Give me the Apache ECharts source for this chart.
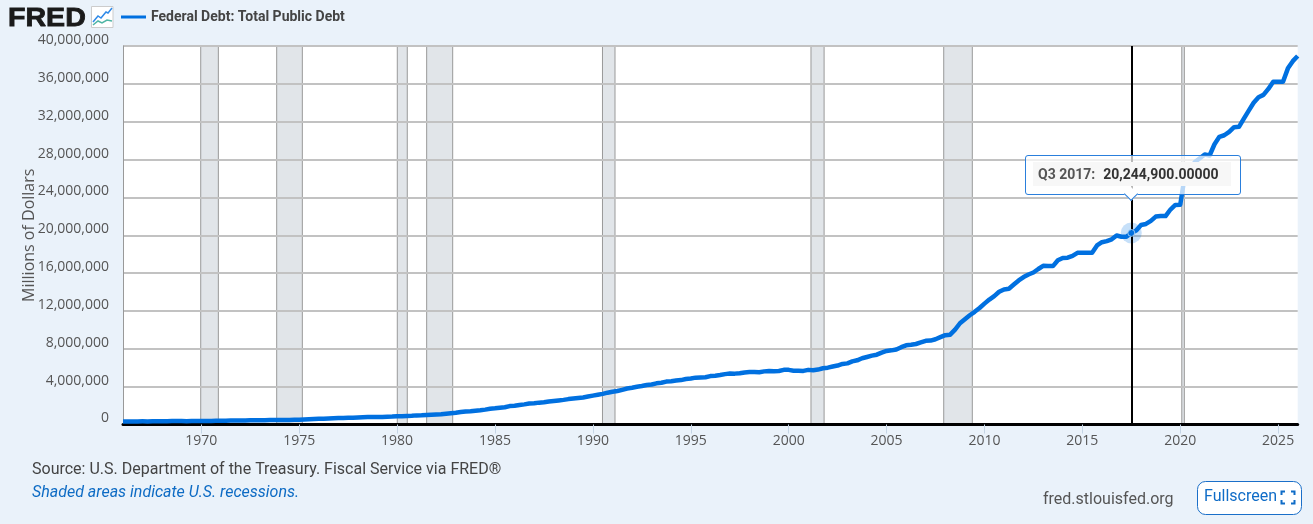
<!DOCTYPE html>
<html><head><meta charset="utf-8">
<style>html,body{margin:0;padding:0;background:#eaf2fa}#c{width:1313px;height:524px}</style>
<script src="https://cdn.jsdelivr.net/npm/echarts@6/dist/echarts.min.js"></script>
</head><body><div id="c"></div>
<script>
const seriesName = 'Federal Debt: Total Public Debt';
const startYear = 1966;
const debt = [
320999,316097,324748,329319, 330947,322893,337206,344663, 351729,347578,358019,358029, 359446,353720,367144,368226,
372007,370919,383000,389158, 391652,398130,414000,424131, 427260,427260,436500,449298, 458141,458142,469100,469898,
474235,474235,486247,492665, 509659,533189,553600,576649, 599200,620433,635000,653544, 680000,685000,709000,718943,
749000,771000,780000,789207, 797000,804000,827000,845116, 877000,884000,908000,930210, 964000,971000,998000,1028729,
1061000,1084000,1142000,1197073, 1245000,1319000,1377000,1410702, 1464000,1512000,1572000,1663000, 1710000,1774000,1823000,1945942,
1986000,2059000,2125000,2214834, 2246000,2310000,2350000,2431715, 2487000,2547000,2602000,2684000, 2740000,2799000,2857000,2953000,
3052000,3143000,3233000,3364000, 3465000,3538000,3665000,3801000, 3881000,3984000,4065000,4177000, 4230000,4352000,4411000,4536000,
4575000,4646000,4692000,4801000, 4864000,4951000,4974000,4988000, 5117000,5161000,5224000,5323000, 5380000,5376000,5413000,5502000,
5542000,5548000,5526000,5614000, 5651000,5638000,5656000,5776000, 5773000,5685000,5674000,5662000, 5773000,5726000,5807000,5943000,
6006000,6126000,6228000,6405000, 6460000,6670000,6783000,6998000, 7131000,7274000,7379000,7596000, 7776000,7836000,7933000,8170000,
8371000,8420000,8507000,8680000, 8849000,8867000,9008000,9229000, 9437000,9492000,10025000,10700000, 11127000,11545000,11910000,12312000,
12773000,13202000,13562000,14025000, 14270000,14343000,14790000,15223000, 15582000,15856000,16066000,16433000, 16772000,16738000,16738000,17352000,
17602000,17633000,17824000,18141000, 18152000,18152000,18151000,18922000, 19264000,19381000,19573000,19977000, 19846000,19845000,20244900,20492000,
21090000,21195000,21516000,21974000, 22028000,22023000,22719000,23201000, 23224000,26477000,26945000,27748000, 28133000,28529000,28429000,29617000,
30401000,30569000,30929000,31420000, 31458000,32332000,33167000,34001000, 34587000,34832000,35465000,36219000, 36215000,36211000,37637000,38400000,
38950000
];
const recessions = [[1969.97,1970.87],[1973.85,1975.16],[1980.01,1980.52],[1981.51,1982.84],[1990.49,1991.13],[2001.14,2001.81],[2007.92,2009.38],[2020.08,2020.21]];
const xTicks = [1970,1975,1980,1985,1990,1995,2000,2005,2010,2015,2020,2025];
const tipIndex = (2017 - startYear) * 4 + 2;

const points = debt.map((v,i)=>[startYear + i/4, v]);
const label = i => 'Q'+(i%4+1)+' '+(startYear+Math.floor(i/4));
const TXT = '#444';
const BLUE = '#0070e0';
const chart = echarts.init(document.getElementById('c'),null,{renderer:'canvas'});
chart.setOption({
  animation:false,
  backgroundColor:'#eaf2fa',
  grid:{left:123,top:46,width:1174.7,height:378.5,backgroundColor:'#fff',show:true,borderWidth:0},
  legend:{left:116,top:5,icon:'rect',itemWidth:25,itemHeight:3,itemGap:5,data:[seriesName],
    itemStyle:{borderWidth:0,color:BLUE},
    textStyle:{fontFamily:'Roboto',fontWeight:'bold',fontSize:14,color:'#444'}},
  xAxis:{type:'value',min:startYear,max:2026,z:4,
    splitLine:{show:false},
    axisLine:{show:true,onZero:false,lineStyle:{color:'#000',width:3}},
    axisTick:{show:true,customValues:xTicks,length:9,lineStyle:{color:'#c5d5e5',width:1}},
    axisLabel:{customValues:xTicks,formatter:v=>String(v),fontFamily:'Open Sans',fontSize:14,color:'#555',margin:10}},
  yAxis:{type:'value',min:0,max:40e6,interval:4e6,z:1.5,
    name:'Millions of Dollars',nameLocation:'middle',nameGap:86,nameRotate:90,nameMoveOverlap:false,
    nameTextStyle:{fontFamily:'Open Sans',fontSize:16,color:'#555'},
    axisLine:{show:true,lineStyle:{color:'#999',width:1}},
    axisTick:{show:false},
    splitLine:{show:true,lineStyle:{color:'#c2c2c2',width:2}},
    axisLabel:{fontFamily:'Open Sans',fontSize:14,lineHeight:12,color:'#555',margin:14,verticalAlign:'bottom',
      showMinLabel:true,showMaxLabel:true}},
  tooltip:{trigger:'axis',alwaysShowContent:true,showContent:true,transitionDuration:0,
    backgroundColor:'transparent',borderWidth:0,padding:0,
    extraCssText:'box-shadow:none;',
    axisPointer:{type:'none'},
    position:()=>[1025,155],
    formatter:ps=>{
      const p=ps.find(q=>q.seriesName===seriesName)||ps[0];
      const i=p.dataIndex, val=debt[i].toLocaleString('en-US',{minimumFractionDigits:5,maximumFractionDigits:5});
      return '<div style="position:relative;box-sizing:border-box;width:216px;height:40px;border:1px solid #2a7fdc;border-radius:3px;background:rgba(255,255,255,.72);padding:6px 0 0 7px;font-family:Roboto;font-size:14px;font-weight:bold;line-height:24px;">'
       +'<div style="background:#f7f7f7;width:198px;height:24px;box-sizing:border-box;padding-left:5px;white-space:nowrap;"><span style="color:#555">'+label(i)+':</span><span style="color:#333;margin-left:8px">'+val+'</span></div>'
       +'<div style="position:absolute;left:100px;top:33px;width:9px;height:9px;background:#fff;border-right:1px solid #2a7fdc;border-bottom:1px solid #2a7fdc;transform:rotate(45deg);"></div></div>';
    }},
  series:[
    {name:'recessions',type:'line',data:[],z:1,silent:true,tooltip:{show:false},
     markArea:{silent:true,z:1,itemStyle:{color:'#e1e5e9',borderColor:'#999',borderWidth:1},
       data:recessions.map(r=>[{xAxis:r[0]},{xAxis:r[1]}])}},
    {name:'halo',type:'scatter',data:[points[tipIndex]],symbolSize:21,z:3,silent:true,
     itemStyle:{color:'rgba(0,115,230,0.28)'},tooltip:{show:false},emphasis:{disabled:true},
     markLine:{silent:true,z:4,symbol:'none',label:{show:false},animation:false,
       lineStyle:{color:'#000',width:2,type:'solid'},emphasis:{disabled:true},
       data:[{xAxis:points[tipIndex][0]}]}},
    {name:seriesName,type:'line',data:points,z:5,showSymbol:false,symbol:'none',smooth:false,
     lineStyle:{color:BLUE,width:4.5,join:'round'},itemStyle:{color:BLUE},
     emphasis:{disabled:true},clip:true},
    {name:'point',type:'scatter',data:[points[tipIndex]],symbolSize:7,z:6,silent:true,
     itemStyle:{color:BLUE,borderColor:'#bcdcf8',borderWidth:1},tooltip:{show:false},emphasis:{disabled:true}}
  ],
  graphic:[
    {type:'text',x:8,y:6,scaleX:1.1,style:{text:'FRED',font:'900 26px "Liberation Sans"',fill:'#1a1a1a',stroke:'#1a1a1a',lineWidth:0.8}},
    {type:'rect',shape:{x:91.5,y:6.5,width:21.5,height:21},style:{fill:'#fff',stroke:'#ccc',lineWidth:1}},
    {type:'polyline',shape:{points:[[93,22],[98,16],[101,18],[106,12],[108,13],[112,8]]},style:{stroke:'#2f8ae8',fill:null,lineWidth:1.5}},
    {type:'polyline',shape:{points:[[93,25],[98,21],[102,23],[107,20],[112,21]]},style:{stroke:'#4fb5a5',fill:null,lineWidth:1.5}},
    {type:'text',x:32,y:462,style:{text:'Source: U.S. Department of the Treasury. Fiscal Service via FRED®',font:'16px Roboto',fill:TXT}},
    {type:'text',x:32,y:485,style:{text:'Shaded areas indicate U.S. recessions.',font:'italic 16px Roboto',fill:'#0d6bc4'}},
    {type:'text',x:1043,y:492,style:{text:'fred.stlouisfed.org',font:'16px Roboto',fill:'#555'}},
    {type:'rect',shape:{x:1197.5,y:481.5,width:104,height:33,r:8},style:{fill:'#fff',stroke:'#1a6fc9',lineWidth:1}},
    {type:'text',x:1204,y:489,style:{text:'Fullscreen',font:'16px Roboto',fill:'#0f6cc7'}},
    {type:'polyline',shape:{points:[[1281.5,495],[1281.5,491.5],[1285,491.5]]},style:{stroke:'#0f6cc7',fill:null,lineWidth:2}},
    {type:'polyline',shape:{points:[[1291,491.5],[1294.5,491.5],[1294.5,495]]},style:{stroke:'#0f6cc7',fill:null,lineWidth:2}},
    {type:'polyline',shape:{points:[[1281.5,500],[1281.5,503.5],[1285,503.5]]},style:{stroke:'#0f6cc7',fill:null,lineWidth:2}},
    {type:'polyline',shape:{points:[[1291,503.5],[1294.5,503.5],[1294.5,500]]},style:{stroke:'#0f6cc7',fill:null,lineWidth:2}}
  ]
});
chart.dispatchAction({type:'showTip',seriesIndex:2,dataIndex:tipIndex});
</script></body></html>
